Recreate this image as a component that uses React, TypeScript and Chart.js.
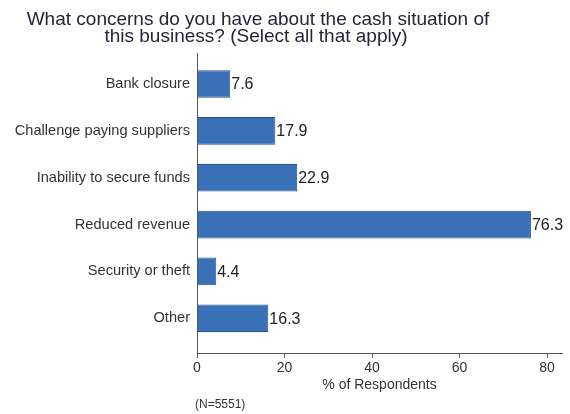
import React, { useEffect, useRef } from "react";
import { Chart, registerables } from "chart.js";

Chart.register(...registerables);

const categories = [
  "Bank closure",
  "Challenge paying suppliers",
  "Inability to secure funds",
  "Reduced revenue",
  "Security or theft",
  "Other",
];
const values = [7.6, 17.9, 22.9, 76.3, 4.4, 16.3];
const xTicks = [0, 20, 40, 60, 80];
const titleLines = [
  "What concerns do you have about the cash situation of",
  "this business? (Select all that apply)",
];
const xTitle = "% of Respondents";
const note = "(N=5551)";

const FONT = "'Liberation Sans', Arial, sans-serif";

const textPlugin = {
  id: "textPlugin",
  afterDatasetsDraw(chart: any) {
    const ctx = chart.ctx;
    const meta = chart.getDatasetMeta(0);
    ctx.save();
    ctx.font = `16px ${FONT}`;
    ctx.fillStyle = "#222";
    ctx.textAlign = "left";
    ctx.textBaseline = "middle";
    meta.data.forEach((bar: any, i: number) => {
      ctx.fillText(values[i].toFixed(1), bar.x + 1, bar.y + 1);
    });
    ctx.restore();
  },
  afterDraw(chart: any) {
    const ctx = chart.ctx;
    const area = chart.chartArea;
    ctx.save();
    ctx.fillStyle = "#23253a";
    ctx.font = `19px ${FONT}`;
    ctx.textAlign = "center";
    ctx.textBaseline = "alphabetic";
    ctx.fillText(titleLines[0], 258, 25);
    ctx.fillText(titleLines[1], 256, 42);
    ctx.fillStyle = "#333";
    ctx.font = `14px ${FONT}`;
    ctx.fillText(xTitle, (area.left + area.right) / 2, 389);
    ctx.font = `12px ${FONT}`;
    ctx.textAlign = "left";
    ctx.fillText(note, 195, 408);
    ctx.restore();
  },
};

export default function App() {
  const ref = useRef<HTMLCanvasElement>(null);
  useEffect(() => {
    if (!ref.current) return;
    const chart = new Chart(ref.current, {
      type: "bar",
      data: {
        datasets: [
          {
            data: values.map((v, i) => ({ x: v, y: i })) as any,
            backgroundColor: "#3a70b5",
            borderColor: "#27548e",
            borderWidth: 1,
            barPercentage: 0.59,
            categoryPercentage: 1,
          },
        ],
      },
      options: {
        indexAxis: "y",
        responsive: false,
        animation: false,
        layout: { padding: { top: 53, right: 8, left: 0, bottom: 0 } },
        plugins: {
          legend: { display: false },
          tooltip: { enabled: false },
          title: { display: false },
        },
        scales: {
          x: {
            type: "linear",
            min: 0,
            max: 83.4,
            offset: false,
            afterBuildTicks: (scale: any) => {
              scale.ticks = xTicks.map((v) => ({ value: v }));
            },
            afterFit: (scale: any) => {
              scale.height = 61;
            },
            grid: {
              display: true,
              drawOnChartArea: false,
              drawTicks: true,
              tickLength: 5,
              color: "#555",
            },
            border: { display: true, color: "#555", width: 1 },
            ticks: {
              font: { family: FONT, size: 14 },
              color: "#333",
              padding: 2,
              maxRotation: 0,
            },
          },
          y: {
            type: "linear",
            reverse: true,
            min: -0.662,
            max: 5.741,
            offset: false,
            afterBuildTicks: (scale: any) => {
              scale.ticks = categories.map((_, i) => ({ value: i }));
            },
            afterFit: (scale: any) => {
              scale.width = 197;
            },
            grid: { display: true, drawOnChartArea: false, drawTicks: false },
            border: { display: true, color: "#555", width: 1 },
            ticks: {
              font: { family: FONT, size: 14.6 },
              color: "#333",
              padding: 7,
              autoSkip: false,
              callback: (v: any) => categories[v as number] ?? "",
            },
          },
        },
      },
      plugins: [textPlugin],
    });
    return () => chart.destroy();
  }, []);
  return (
    <div style={{ position: "fixed", left: 0, top: 0, width: 570, height: 414, background: "#fff" }}>
      <canvas ref={ref} width={570} height={414} />
    </div>
  );
}
